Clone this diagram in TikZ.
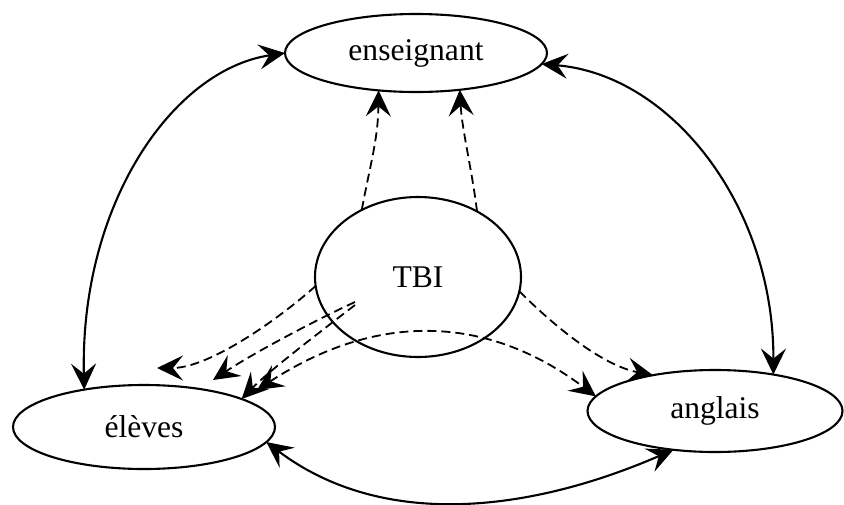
\documentclass[tikz,border=0pt]{standalone}
\usepackage{fontspec}
\setmainfont{Liberation Serif}
\usetikzlibrary{shapes.geometric,arrows.meta}
\begin{document}
\begin{tikzpicture}[x=1pt,y=-1pt,
  mytip/.tip={Stealth[length=26pt,width=25pt,inset=10pt]},
  bubble/.style={draw,ellipse,line width=2.1pt,inner sep=0pt,outer sep=0pt,font=\fontsize{31.6}{38}\selectfont},
  link/.style={line width=2.1pt,{mytip}-{mytip}},
  dlink/.style={line width=1.8pt,dash pattern=on 9pt off 5pt,-{mytip}},
  dlinkboth/.style={line width=1.8pt,dash pattern=on 9pt off 5pt,{mytip}-{mytip}}
]
\useasboundingbox (0,0) rectangle (844,504);

\node[bubble,minimum width=262pt,minimum height=78pt] (ens) at (416,53) {enseignant};
\node[bubble,minimum width=206pt,minimum height=160pt] (tbi) at (418,277) {TBI};
\node[bubble,minimum width=262pt,minimum height=84pt] (elv) at (144,427) {élèves};
\node[bubble,minimum width=255pt,minimum height=82pt] (ang) at (715,411) {anglais};

% solid double arrows
\draw[link] (ens.180) .. controls (172,70) and (80,205) .. (elv.148);
\draw[link] (ens.-5) .. controls (672,75) and (774,207) .. (ang.32);
\draw[link] (elv.-7) .. controls (383,530) and (530,512) .. (ang.-137);

% dashed arrows towards enseignant
\draw[dlink] (tbi.130) .. controls (370,165) and (378,140) .. (ens.-135);
\draw[dlink] (tbi.48) .. controls (472,170) and (462,130) .. (ens.-40);

% dashed arrows towards eleves
\coordinate (ta) at (157,368);
\coordinate (tb) at (213,380);
\coordinate (td) at (257,390);
\coordinate (sb) at (355,302);
\coordinate (sc) at (355,305);
\draw[dlink] (tbi.185) .. controls (280,318) and (210,368) .. (ta);
\draw[dlink] (sb) .. controls (320,318) and (255,352) .. (tb);
\draw[dlink] (sc) .. controls (320,332) and (270,370) .. (elv.16);
\draw[dlinkboth] (td) .. controls (375,313) and (485,313) .. (ang.173);

% dashed arrow towards anglais
\draw[dlink] (tbi.-8) .. controls (550,322) and (600,365) .. (ang.150);
\end{tikzpicture}
\end{document}
